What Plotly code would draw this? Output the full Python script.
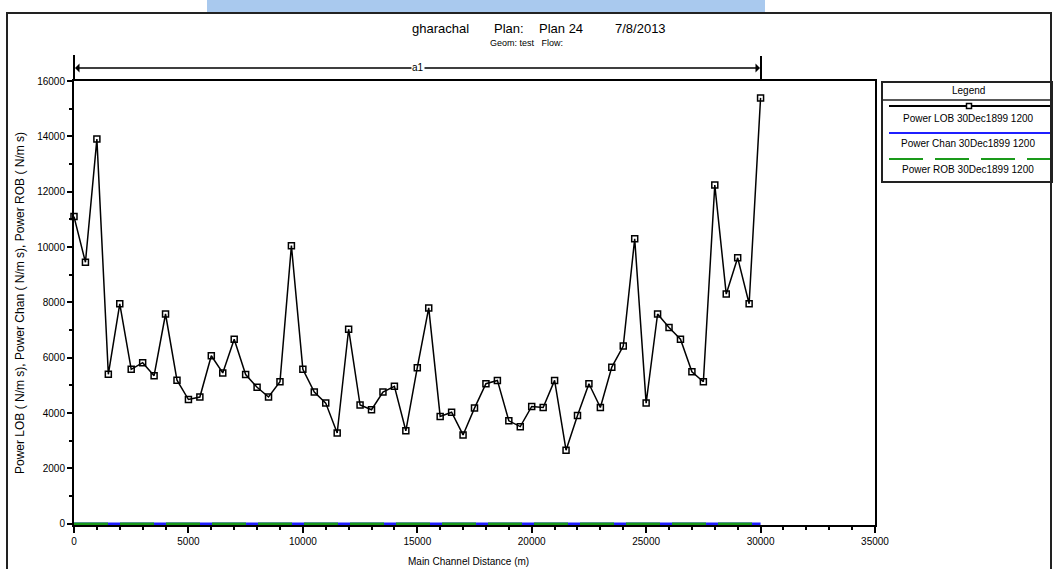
import plotly.graph_objects as go

# ---------------- data ----------------
distance_m = [i * 500 for i in range(61)]
power_lob = [11100, 9450, 13900, 5400, 7950, 5580, 5820, 5350, 7580, 5190,
             4490, 4580, 6070, 5450, 6670, 5390, 4930, 4580, 5130, 10050,
             5580, 4760, 4360, 3280, 7030, 4290, 4120, 4760, 4970, 3360,
             5640, 7800, 3880, 4030, 3210, 4180, 5060, 5180, 3720, 3510,
             4240, 4200, 5180, 2660, 3910, 5060, 4200, 5660, 6420, 10300,
             4360, 7580, 7090, 6670, 5490, 5130, 12240, 8300, 9610, 7950,
             15390]
power_chan = [0.0] * 61
power_rob = [0.0] * 61

series_names = ["Power LOB 30Dec1899 1200",
                "Power Chan 30Dec1899 1200",
                "Power ROB 30Dec1899 1200"]
series_colors = ["#000000", "#1f1fff", "#1a9a1a"]

x_tick_vals = [0, 5000, 10000, 15000, 20000, 25000, 30000, 35000]
y_tick_vals = [0, 2000, 4000, 6000, 8000, 10000, 12000, 14000, 16000]

title_parts = ["gharachal", "Plan:", "Plan 24", "7/8/2013"]
title_x = [410, 492, 537, 613]
subtitle = "Geom: test   Flow:"
reach_label = "a1"

# ---------------- geometry helpers (pixels -> paper) ----------------
W_IMG, H_IMG = 1053, 569
L, R, T, B = 74, 875, 81, 525


def px(x):
    return (x - L) / (R - L)


def py(y):
    return (B - y) / (B - T)


FONT = "Liberation Sans, Arial, sans-serif"

fig = go.Figure()

fig.add_trace(go.Scatter(x=distance_m, y=power_chan, mode="lines",
                         name=series_names[1],
                         line=dict(color=series_colors[1], width=2.5),
                         cliponaxis=False, showlegend=False))
fig.add_trace(go.Scatter(x=distance_m, y=power_rob, mode="lines",
                         name=series_names[2],
                         line=dict(color=series_colors[2], width=2.5, dash="34px,12px"),
                         cliponaxis=False, showlegend=False))
fig.add_trace(go.Scatter(x=distance_m, y=power_lob, mode="lines+markers",
                         name=series_names[0],
                         line=dict(color=series_colors[0], width=1.5),
                         marker=dict(symbol="square-open", size=6,
                                     color="#000000", line=dict(width=1.5)),
                         cliponaxis=False, showlegend=False))

shapes = []
# outer frame
shapes.append(dict(type="rect", xref="paper", yref="paper",
                   x0=px(7), x1=px(1051), y0=py(13), y1=py(600),
                   line=dict(color="#222222", width=2), layer="below"))
# blue bar at top
shapes.append(dict(type="rect", xref="paper", yref="paper",
                   x0=px(207), x1=px(765), y0=py(0), y1=py(12),
                   fillcolor="#a9c9ee", line=dict(width=0), layer="below"))
# reach bracket verticals
shapes.append(dict(type="line", xref="paper", yref="paper", x0=px(74), x1=px(74),
                   y0=py(55), y1=py(81), line=dict(color="#000", width=2)))
shapes.append(dict(type="line", xref="paper", yref="paper", x0=px(761), x1=px(761),
                   y0=py(56), y1=py(81), line=dict(color="#000", width=2)))
# legend box
shapes.append(dict(type="rect", xref="paper", yref="paper",
                   x0=px(882), x1=px(1052), y0=py(82), y1=py(182),
                   line=dict(color="#222222", width=2)))
shapes.append(dict(type="line", xref="paper", yref="paper",
                   x0=px(882), x1=px(1052), y0=py(100), y1=py(100),
                   line=dict(color="#222222", width=1.5)))
legend_line_y = [106, 133, 159]
legend_text_y = [118, 143, 169]
legend_dash = ["solid", "solid", "34px,12px"]
for i in range(3):
    shapes.append(dict(type="line", xref="paper", yref="paper",
                       x0=px(889), x1=px(1050),
                       y0=py(legend_line_y[i]), y1=py(legend_line_y[i]),
                       line=dict(color=series_colors[i], width=2, dash=legend_dash[i])))
shapes.append(dict(type="rect", xref="paper", yref="paper",
                   x0=px(966.5), x1=px(971.5), y0=py(103.5), y1=py(108.5),
                   fillcolor="white", line=dict(color="#000", width=1.5)))

annotations = []
# title pieces
for t, xpos in zip(title_parts, title_x):
    annotations.append(dict(text=t, x=px(xpos), y=py(28), xref="paper", yref="paper",
                            xanchor="left", yanchor="middle", showarrow=False,
                            font=dict(family=FONT, size=13, color="#000")))
annotations.append(dict(text=subtitle, x=px(526), y=py(43), xref="paper", yref="paper",
                        xanchor="center", yanchor="middle", showarrow=False,
                        font=dict(family=FONT, size=9, color="#000")))
# reach bracket arrows
annotations.append(dict(x=px(75), y=py(68), xref="paper", yref="paper",
                        ax=344, ay=0, axref="pixel", ayref="pixel", text="",
                        showarrow=True, arrowhead=1, arrowsize=1, arrowwidth=1.5,
                        arrowcolor="#000"))
annotations.append(dict(x=px(760), y=py(68), xref="paper", yref="paper",
                        ax=-342, ay=0, axref="pixel", ayref="pixel", text="",
                        showarrow=True, arrowhead=1, arrowsize=1, arrowwidth=1.5,
                        arrowcolor="#000"))
annotations.append(dict(text=reach_label, x=px(418), y=py(68), xref="paper", yref="paper",
                        xanchor="center", yanchor="middle",
                        showarrow=False, bgcolor="white", borderpad=0,
                        font=dict(family=FONT, size=10, color="#000")))
# legend texts
annotations.append(dict(text="Legend", x=px(968), y=py(90), xref="paper", yref="paper",
                        xanchor="center", yanchor="middle",
                        showarrow=False, font=dict(family=FONT, size=10, color="#000")))
for i in range(3):
    annotations.append(dict(text=series_names[i], x=px(968), y=py(legend_text_y[i]),
                            xref="paper", yref="paper", xanchor="center", yanchor="middle",
                            showarrow=False,
                            font=dict(family=FONT, size=10, color="#000")))
# axis titles placed explicitly
annotations.append(dict(text="Main Channel Distance (m)", x=px(468), y=py(561),
                        xref="paper", yref="paper", xanchor="center", yanchor="middle",
                        showarrow=False, font=dict(family=FONT, size=10, color="#000")))
annotations.append(dict(text="Power LOB ( N/m s), Power Chan ( N/m s), Power ROB ( N/m s)",
                        x=px(20), y=py(303), textangle=-90,
                        xref="paper", yref="paper", xanchor="center", yanchor="middle",
                        showarrow=False, font=dict(family=FONT, size=12, color="#000")))

fig.update_layout(
    width=W_IMG, height=H_IMG,
    margin=dict(l=L, r=W_IMG - R, t=T, b=H_IMG - B, pad=0, autoexpand=False),
    paper_bgcolor="white", plot_bgcolor="white",
    shapes=shapes, annotations=annotations,
    showlegend=False,
    xaxis=dict(range=[0, 35000], tickvals=x_tick_vals, automargin=False,
               ticktext=[str(v) for v in x_tick_vals],
               ticks="outside", ticklen=6, tickwidth=1.5, tickcolor="#000",
               minor=dict(dtick=1000, tick0=0, ticks="outside", ticklen=3, tickcolor="#000"),
               showgrid=False, zeroline=False, layer="below traces",
               showline=True, linecolor="#000", linewidth=2, mirror=True,
               tickfont=dict(family=FONT, size=10, color="#000")),
    yaxis=dict(range=[-45, 16000], tickvals=y_tick_vals, automargin=False,
               ticktext=[str(v) for v in y_tick_vals],
               ticks="outside", ticklen=5, tickwidth=1.5, tickcolor="#000",
               minor=dict(dtick=1000, tick0=0, ticks="outside", ticklen=3, tickcolor="#000"),
               showgrid=False, zeroline=False, layer="below traces",
               showline=True, linecolor="#000", linewidth=2, mirror=True,
               tickfont=dict(family=FONT, size=10, color="#000")),
)

fig.write_html("out.html")
